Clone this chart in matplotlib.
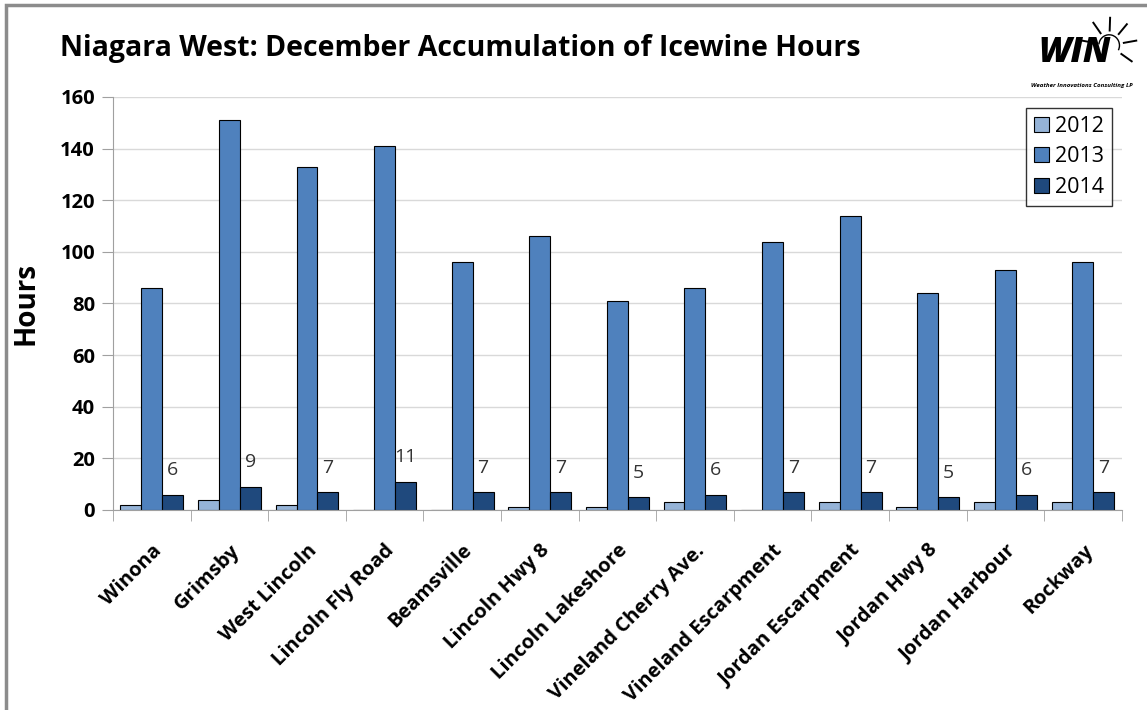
import numpy as np
import matplotlib.pyplot as plt
from matplotlib.patches import Rectangle, Arc

stations = ["Winona", "Grimsby", "West Lincoln", "Lincoln Fly Road", "Beamsville",
            "Lincoln Hwy 8", "Lincoln Lakeshore", "Vineland Cherry Ave.",
            "Vineland Escarpment", "Jordan Escarpment", "Jordan Hwy 8",
            "Jordan Harbour", "Rockway"]
hours_2012 = [2, 4, 2, 0, 0, 1, 1, 3, 0, 3, 1, 3, 3]
hours_2013 = [86, 151, 133, 141, 96, 106, 81, 86, 104, 114, 84, 93, 96]
hours_2014 = [6, 9, 7, 11, 7, 7, 5, 6, 7, 7, 5, 6, 7]
years = ["2012", "2013", "2014"]
colours = ["#95B3D7", "#4F81BD", "#1F497D"]

plt.rcParams['font.family'] = ['Open Sans', 'DejaVu Sans']

fig = plt.figure(figsize=(11.47, 7.1), dpi=100)
# outer chart frame
fig.patches.append(Rectangle((0.005, -0.05), 1.1, 1.043, transform=fig.transFigure,
                             fill=False, edgecolor="#8c8c8c", linewidth=2.5))

ax = fig.add_axes([0.0985, 0.2817, 0.8795, 0.5817])
x = np.arange(len(stations))
w = 0.27
for i, (vals, yr, c) in enumerate(zip([hours_2012, hours_2013, hours_2014], years, colours)):
    bars = ax.bar(x + (i - 1) * w, vals, w, color=c, edgecolor="black", linewidth=0.8, label=yr)
    if yr == "2014":
        for b, v in zip(bars, vals):
            ax.annotate(str(v), (b.get_x() + b.get_width() / 2, v), xytext=(0, 11),
                        textcoords="offset points", ha="center", va="bottom",
                        fontsize=14, color="#333333")

ax.set_xlim(-0.5, len(stations) - 0.5)
ax.set_ylim(0, 160)
ax.set_yticks(range(0, 161, 20))
ax.yaxis.grid(True, color="#d9d9d9", linewidth=1)
ax.set_axisbelow(True)
for s in ["top", "right"]:
    ax.spines[s].set_visible(False)
for s in ["left", "bottom"]:
    ax.spines[s].set_color("#a0a0a0")
ax.tick_params(axis="y", length=8, color="#a0a0a0", labelsize=14.5, pad=5)
for t in ax.get_yticklabels():
    t.set_fontweight("bold")

ax.set_xticks(x)
ax.set_xticklabels(stations, rotation=45, ha="right", rotation_mode="anchor",
                   fontsize=14.5, fontweight="bold")
ax.tick_params(axis="x", length=0, pad=22)
ax.set_xticks(np.arange(-0.5, len(stations), 1), minor=True)
ax.tick_params(axis="x", which="minor", length=8, color="#a0a0a0")

ax.set_ylabel("Hours", fontsize=20, fontweight="bold", labelpad=14)

fig.text(0.052, 0.932, "Niagara West: December Accumulation of Icewine Hours",
         fontsize=20.5, fontweight="bold", va="center")

leg = ax.legend(loc="upper right", bbox_to_anchor=(0.99, 0.973), borderaxespad=0,
                fontsize=15.5, frameon=True, fancybox=False, edgecolor="black",
                handlelength=0.7, handleheight=0.7, handletextpad=0.3,
                labelspacing=0.45, borderpad=0.35)
leg.get_frame().set_linewidth(1)

# WIN logo
fig.text(0.937, 0.926, "WIN", fontsize=25, fontweight="heavy", style="italic",
         ha="center", va="center")
fig.text(0.943, 0.880, "Weather Innovations Consulting LP", fontsize=4.4,
         fontweight="bold", style="italic", ha="center", va="center")
cx, cy = 0.967, 0.936
fig.patches.append(Arc((cx, cy), 0.018, 0.03, theta1=-40, theta2=170,
                       transform=fig.transFigure, color="black", linewidth=1))
for ang in [170, 125, 88, 50, 10, -35]:
    a = np.deg2rad(ang)
    fig.add_artist(plt.Line2D([cx + 0.013 * np.cos(a), cx + 0.024 * np.cos(a)],
                              [cy + 0.021 * np.sin(a), cy + 0.039 * np.sin(a)],
                              transform=fig.transFigure, color="black", linewidth=1.4))

fig.savefig("out.png", dpi=100)
